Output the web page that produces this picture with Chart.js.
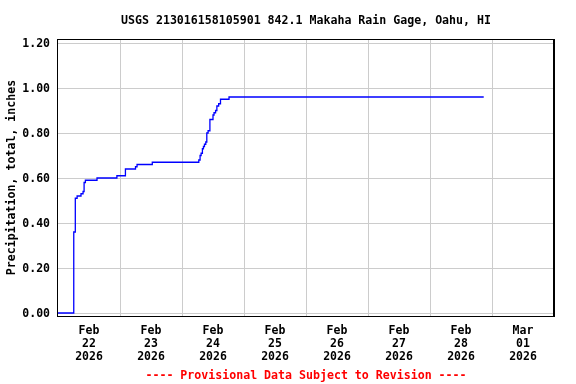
<!DOCTYPE html>
<html><head><meta charset="utf-8">
<script src="https://cdn.jsdelivr.net/npm/chart.js@4/dist/chart.umd.min.js"></script>
<style>html,body{margin:0;padding:0;background:#fff;}</style>
</head><body>
<canvas id="c" width="576" height="384" style="display:block;width:576px;height:384px"></canvas>
<script>
// ---- text ----
const chartTitle = 'USGS 213016158105901 842.1 Makaha Rain Gage, Oahu, HI';
const yAxisTitle = 'Precipitation, total, inches';
const footerNote = '---- Provisional Data Subject to Revision ----';

// ---- x axis: hours since Feb 22 2026 00:00 ----
const dayLabels = [
  ['Feb','22','2026'], ['Feb','23','2026'], ['Feb','24','2026'], ['Feb','25','2026'],
  ['Feb','26','2026'], ['Feb','27','2026'], ['Feb','28','2026'], ['Mar','01','2026']
];
const dayNoonHours = [12, 36, 60, 84, 108, 132, 156, 180];
const midnightHours = [24, 48, 72, 96, 120, 144, 168];
const yTickValues = [0.0, 0.2, 0.4, 0.6, 0.8, 1.0, 1.2];

// ---- series: time of each gage step (hours) and new cumulative total (inches) ----
const stepHours = [0, 6.1, 6.7, 7.4, 8.9, 9.7, 10.1, 10.6, 15.1, 22.8, 26.1, 30.0, 30.6, 36.5,
  54.5, 55.0, 55.4, 55.9, 56.3, 56.7, 57.2, 57.6, 58.1, 58.8, 60.0, 60.4, 61.0, 61.5, 62.2, 62.9, 66.2, 164.8];
const precipInches = [0.00, 0.36, 0.51, 0.52, 0.53, 0.54, 0.58, 0.59, 0.60, 0.61, 0.64, 0.65, 0.66, 0.67,
  0.68, 0.70, 0.71, 0.73, 0.74, 0.75, 0.76, 0.80, 0.81, 0.86, 0.88, 0.89, 0.90, 0.92, 0.93, 0.95, 0.96, 0.96];

const FONT = "'DejaVu Sans Mono', monospace";

const framePlugin = {
  id: 'frame',
  afterDatasetsDraw(chart) {
    const {ctx, chartArea: a} = chart;
    ctx.save();
    ctx.strokeStyle = '#000';
    ctx.lineWidth = 1;
    ctx.strokeRect(a.left - 0.5, a.top + 0.5, a.right - a.left, a.bottom - a.top);
    ctx.lineWidth = 2;
    ctx.beginPath(); ctx.moveTo(a.right, a.top); ctx.lineTo(a.right, a.bottom + 1); ctx.stroke();
    ctx.restore();
  }
};

new Chart(document.getElementById('c'), {
  type: 'line',
  data: {
    datasets: [{
      data: stepHours.map((h, i) => ({x: h, y: precipInches[i]})),
      borderColor: '#0000ff',
      borderWidth: 1.3,
      pointRadius: 0,
      stepped: 'before',
      fill: false
    }]
  },
  options: {
    responsive: false,
    animation: false,
    devicePixelRatio: 1,
    layout: {padding: {left: 0, right: 22, top: 0, bottom: 0}},
    plugins: {
      legend: {display: false},
      tooltip: {enabled: false},
      title: {
        display: true, text: chartTitle, fullSize: false, color: '#000',
        font: {family: FONT, size: 11.6, weight: 'bold', lineHeight: 1.2},
        padding: {top: 14, bottom: 11.08}
      }
    },
    scales: {
      x: {
        type: 'linear', min: 0, max: 192,
        afterBuildTicks(s) { s.ticks = midnightHours.concat(dayNoonHours).sort((a,b)=>a-b).map(v => ({value: v})); },
        afterFit(s) { s.height = 68; },
        grid: {
          drawTicks: false,
          color: c => (c.tick && midnightHours.includes(c.tick.value)) ? '#cccccc' : 'rgba(0,0,0,0)',
          lineWidth: 1
        },
        border: {display: false},
        ticks: {
          autoSkip: false, maxRotation: 0, minRotation: 0, padding: 9, color: '#000',
          font: {family: FONT, size: 11.5, weight: 'bold', lineHeight: 1.115},
          callback: v => { const i = dayNoonHours.indexOf(v); return i >= 0 ? dayLabels[i] : ''; }
        },
        title: {
          display: true, text: footerNote, color: '#ff0000',
          font: {family: FONT, size: 11.6, weight: 'bold', lineHeight: 1.2},
          padding: {top: 0, bottom: 1}
        }
      },
      y: {
        type: 'linear', min: -0.0133, max: 1.2178,
        afterBuildTicks(s) { s.ticks = yTickValues.map(v => ({value: v})); },
        afterFit(s) { s.width = 58; },
        grid: {drawTicks: false, color: '#cccccc', lineWidth: 1},
        border: {display: false},
        ticks: {
          padding: 8, color: '#000', labelOffset: 1,
          font: {family: FONT, size: 11.5, weight: 'bold'},
          callback: v => Number(v).toFixed(2)
        },
        title: {
          display: true, text: yAxisTitle, color: '#000',
          font: {family: FONT, size: 11.6, weight: 'bold', lineHeight: 1.2},
          padding: {top: 5, bottom: 0}
        }
      }
    }
  },
  plugins: [framePlugin]
});
</script>
</body></html>
